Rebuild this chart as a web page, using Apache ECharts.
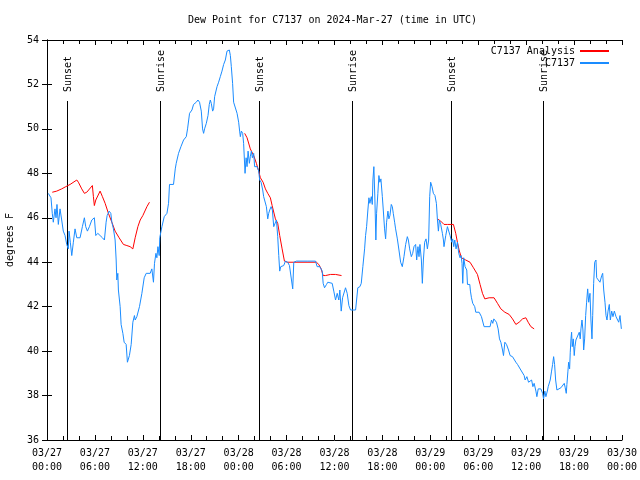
<!DOCTYPE html>
<html>
<head>
<meta charset="utf-8">
<script src="https://cdn.jsdelivr.net/npm/echarts@6/dist/echarts.min.js"></script>
<style>html,body{margin:0;padding:0;background:#fff}#c{width:640px;height:480px}</style>
</head>
<body>
<div id="c"></div>
<script>
// hours since 2024-03-27 00:00 UTC
const blueHours = [0.16,0.50,0.66,0.79,1.00,1.13,1.25,1.42,1.63,1.84,2.04,2.26,2.47,2.67,2.76,2.92,3.10,3.30,3.51,3.73,4.14,4.43,4.68,4.85,5.06,5.31,5.61,5.93,6.11,6.36,6.65,6.94,7.19,7.40,7.53,7.78,7.99,8.12,8.32,8.53,8.66,8.74,8.87,8.94,9.16,9.28,9.50,9.66,9.91,10.07,10.32,10.54,10.75,10.95,11.04,11.25,11.58,11.88,12.17,12.42,12.92,13.13,13.33,13.46,13.64,13.76,13.89,14.05,14.12,14.39,14.68,15.02,15.22,15.34,15.84,16.06,16.18,16.47,16.77,17.10,17.44,17.60,17.85,18.15,18.35,18.69,18.90,19.10,19.32,19.48,19.61,19.73,19.95,20.16,20.32,20.45,20.57,20.74,20.86,20.99,21.29,21.49,21.70,21.91,22.12,22.33,22.54,22.83,22.96,23.08,23.24,23.37,23.58,23.80,24.00,24.12,24.21,24.34,24.50,24.62,24.80,24.93,25.05,25.18,25.34,25.46,25.59,25.72,25.88,26.00,26.31,26.51,26.63,26.81,27.01,27.13,27.35,27.47,27.64,27.76,27.89,28.06,28.22,28.39,28.60,28.73,28.89,29.02,29.14,29.27,29.44,29.64,29.86,30.14,30.36,30.61,30.77,30.90,31.24,32.58,33.62,33.83,34.16,34.46,34.58,34.75,35.00,35.16,35.71,35.91,36.13,36.34,36.54,36.67,36.84,37.01,37.17,37.38,37.59,37.80,38.01,38.64,38.92,39.18,39.35,39.55,39.77,39.89,40.02,40.18,40.31,40.43,40.61,40.73,40.81,40.93,41.06,41.18,41.27,41.43,41.56,41.68,41.81,41.99,42.11,42.27,42.40,42.52,42.69,42.81,42.94,43.11,43.24,43.36,43.53,43.65,43.87,44.07,44.28,44.49,44.70,44.91,45.12,45.25,45.41,45.62,45.79,45.95,46.16,46.29,46.45,46.58,46.70,46.88,47.00,47.13,47.29,47.46,47.63,47.79,47.92,48.04,48.21,48.38,48.58,48.76,48.88,49.01,49.13,49.30,49.51,49.64,49.71,49.93,50.14,50.34,50.47,50.68,50.80,50.93,51.06,51.22,51.39,51.56,51.72,51.85,51.97,52.06,52.18,52.35,52.56,52.65,52.94,53.02,53.15,53.31,53.56,53.69,54.11,54.40,54.73,55.48,55.66,55.82,55.95,56.11,56.28,56.49,56.66,56.83,57.04,57.16,57.33,57.54,57.79,57.99,58.29,58.50,58.71,58.92,59.12,59.33,59.55,59.75,59.87,60.09,60.30,60.50,60.68,60.84,61.00,61.22,61.34,61.51,61.84,62.06,62.18,62.34,62.47,62.68,62.76,63.01,63.18,63.31,63.44,63.56,63.69,63.85,64.06,64.35,64.56,64.77,64.89,65.02,65.10,65.23,65.32,65.44,65.52,65.61,65.69,65.77,65.90,66.02,66.11,66.23,66.45,66.65,66.77,66.86,66.99,67.11,67.20,67.32,67.45,67.57,67.70,67.83,67.99,68.11,68.24,68.33,68.45,68.58,68.74,68.83,69.03,69.24,69.46,69.58,69.71,69.87,70.00,70.12,70.25,70.41,70.54,70.71,70.87,71.04,71.25,71.47,71.59,71.75,71.92];
const blueValues = [47.1,46.9,46.2,45.8,46.4,46.0,46.6,45.7,46.4,45.9,45.4,45.2,44.8,44.6,45.4,44.9,44.3,44.9,45.5,45.1,45.1,45.6,46.0,45.6,45.4,45.6,45.9,46.0,45.2,45.3,45.2,45.1,45.0,45.8,46.1,46.3,46.2,45.8,45.5,45.0,44.1,43.2,43.5,42.75,42.0,41.2,40.8,40.4,40.3,39.5,39.8,40.3,41.3,41.6,41.4,41.55,42.0,42.6,43.3,43.5,43.5,43.7,43.1,43.95,44.4,44.2,44.7,44.3,45.1,45.6,46.05,46.2,46.65,47.5,47.5,48.2,48.45,48.9,49.2,49.5,49.65,50.0,50.7,50.85,51.1,51.2,51.3,51.2,50.8,50.0,49.8,50.0,50.25,50.6,51.1,51.3,51.15,50.8,50.9,51.45,51.9,52.1,52.35,52.6,52.9,53.1,53.5,53.55,53.3,52.8,52.05,51.2,51.15,50.7,50.3,49.9,49.65,49.9,49.8,49.35,48.0,48.7,48.3,49.0,48.45,48.75,49.0,48.7,48.9,48.3,48.3,48.1,47.7,47.6,47.25,46.95,46.95,46.5,45.95,46.2,46.35,46.5,46.35,45.6,45.6,45.9,45.15,44.3,43.6,43.8,43.8,43.85,44.05,44.0,43.85,43.8,42.8,44.0,44.05,44.05,44.05,43.8,43.8,43.6,43.05,42.85,43.0,43.1,43.05,42.7,42.3,42.6,42.3,42.75,41.8,42.4,42.45,42.85,42.6,42.05,41.85,41.85,42.85,42.9,43.05,43.8,44.6,45.2,45.6,46.35,46.9,46.65,46.95,46.6,47.7,48.3,46.8,45.0,46.2,47.1,47.9,47.6,47.75,46.95,46.35,45.5,45.05,45.8,46.3,45.95,46.1,46.6,46.5,46.2,45.8,45.5,45.05,44.55,44.0,43.8,44.25,44.8,45.15,45.0,44.6,44.25,44.4,44.7,44.8,44.1,44.7,44.25,44.8,44.1,43.05,44.1,44.9,45.05,44.6,45.0,46.95,47.6,47.4,47.1,47.0,46.65,45.95,45.4,45.9,45.7,45.3,45.0,44.7,45.2,45.6,45.65,45.2,44.9,45.05,44.7,45.0,44.6,44.9,44.4,44.2,44.3,43.95,43.05,44.2,43.8,43.65,43.0,43.0,42.7,42.4,42.15,42.0,41.75,41.75,41.55,41.1,41.1,41.4,41.25,41.45,41.5,41.3,41.0,40.55,40.4,40.05,39.8,40.4,40.3,40.05,39.8,39.75,39.7,39.5,39.4,39.45,39.15,39.1,38.9,38.7,38.85,38.6,38.55,38.7,38.4,38.55,38.2,37.95,38.3,38.3,38.1,37.85,38.2,37.95,38.25,38.4,38.7,39.1,39.4,39.75,39.4,38.7,38.25,38.3,38.35,38.4,38.55,38.35,38.1,38.5,39.1,39.5,39.2,39.95,40.55,40.85,40.2,40.55,39.8,40.2,40.5,40.5,40.85,40.55,41.0,41.4,40.95,40.05,40.55,41.6,42.2,42.8,42.2,42.6,41.4,40.55,41.6,43.05,44.0,44.1,43.3,43.2,43.1,43.4,43.5,42.75,42.2,41.6,41.4,41.8,42.1,41.4,41.8,41.55,41.8,41.55,41.6,41.3,41.6,41.0];

const redHours = [0.66,1.22,1.84,2.35,2.89,3.73,3.93,4.35,4.68,4.98,5.68,5.81,5.93,6.11,6.65,6.94,7.28,7.69,8.12,8.53,9.03,9.57,10.00,10.41,10.75,11.04,11.38,11.67,12.00,12.51,12.83,18.0,24.75,25.05,25.46,25.88,26.22,26.51,26.72,27.06,27.35,27.64,27.97,28.19,28.60,28.89,29.14,29.44,29.73,30.07,33.74,34.03,34.33,34.58,34.87,35.50,36.13,36.88,42.0,48.88,49.30,49.71,50.14,50.89,51.18,51.39,51.60,51.89,52.43,52.97,53.40,53.90,54.23,54.53,54.82,55.36,55.98,56.41,56.83,57.33,57.87,58.29,58.71,59.12,59.55,59.96,60.25,60.59,61.00];
const redValues = [47.15,47.2,47.3,47.4,47.5,47.7,47.6,47.3,47.1,47.15,47.45,46.95,46.55,46.8,47.2,46.95,46.65,46.2,45.8,45.4,45.1,44.8,44.75,44.7,44.6,45.1,45.6,45.9,46.1,46.5,46.7,null,49.8,49.6,49.1,48.8,48.45,48.1,47.8,47.6,47.3,47.1,46.9,46.55,45.95,45.75,45.2,44.6,44.05,44.0,44.0,43.9,43.7,43.4,43.4,43.45,43.45,43.4,null,45.95,45.85,45.7,45.7,45.7,45.3,44.9,44.55,44.2,44.1,44.0,43.75,43.45,43.0,42.6,42.35,42.4,42.4,42.15,41.9,41.75,41.65,41.45,41.2,41.3,41.45,41.5,41.3,41.1,41.0];

const eventHours = [2.47, 14.09, 26.51, 38.18, 50.60, 62.15];
const eventLabels = ['Sunset', 'Sunrise', 'Sunset', 'Sunrise', 'Sunset', 'Sunrise'];

const yTicks = [36, 38, 40, 42, 44, 46, 48, 50, 52, 54];
const titleText = 'Dew Point for C7137 on 2024-Mar-27 (time in UTC)';
const seriesNames = ['C7137 Analysis', 'C7137'];
const startUTC = Date.UTC(2024, 2, 27, 0, 0);

const FONT = 'DejaVu Sans Mono';
const pad = n => (n < 10 ? '0' : '') + n;
function fmtHour(h) {
  const d = new Date(startUTC + h * 3600000);
  return pad(d.getUTCMonth() + 1) + '/' + pad(d.getUTCDate()) + '\n' + pad(d.getUTCHours()) + ':' + pad(d.getUTCMinutes());
}

const chart = echarts.init(document.getElementById('c'), null, {renderer: 'canvas'});
const axisCommon = {
  axisLine: {show: true, lineStyle: {color: '#000', width: 1}},
  axisTick: {show: true, inside: true, length: 5, lineStyle: {color: '#000'}},
  splitLine: {show: false}
};
const option = {
  animation: false,
  backgroundColor: '#fff',
  title: {
    text: titleText, left: 183, top: 10,
    textStyle: {fontFamily: FONT, fontSize: 10, fontWeight: 'normal', color: '#000'}
  },
  legend: {
    data: seriesNames, orient: 'vertical', right: 25, top: 41, align: 'right',
    itemWidth: 29, itemHeight: 10, itemGap: 2,
    itemStyle: {opacity: 0},
    textStyle: {fontFamily: FONT, fontSize: 10, color: '#000'}
  },
  grid: {left: 47, right: 18, top: 40, bottom: 40, containLabel: false, outerBoundsMode: 'none'},
  xAxis: [
    Object.assign({
      type: 'value', min: 0, max: 72, interval: 6, position: 'bottom',
      minorTick: {show: true, splitNumber: 3, length: 4, lineStyle: {color: '#000'}},
      axisLabel: {formatter: v => fmtHour(v), fontFamily: FONT, fontSize: 10, color: '#000', lineHeight: 14, margin: 6}
    }, axisCommon),
    Object.assign({
      type: 'value', min: 0, max: 72, interval: 6, position: 'top',
      minorTick: {show: true, splitNumber: 3, length: 4, lineStyle: {color: '#000'}},
      axisLabel: {show: false}
    }, axisCommon)
  ],
  yAxis: [
    Object.assign({
      type: 'value', min: yTicks[0], max: yTicks[yTicks.length - 1], interval: 2, position: 'left',
      name: 'degrees F', nameLocation: 'middle', nameGap: 32, nameRotate: 90,
      nameTextStyle: {fontFamily: FONT, fontSize: 10, color: '#000'},
      axisLabel: {fontFamily: FONT, fontSize: 10, color: '#000', margin: 8}
    }, axisCommon),
    Object.assign({
      type: 'value', min: yTicks[0], max: yTicks[yTicks.length - 1], interval: 2, position: 'right',
      axisLabel: {show: false}
    }, axisCommon)
  ],
  series: [
    {
      type: 'custom', name: 'events', silent: true, clip: false,
      data: eventHours.map((h, i) => [h, yTicks[0], eventLabels[i]]),
      encode: {x: 0, y: 1},
      renderItem: function (params, api) {
        const cs = params.coordSys;
        const p = api.coord([api.value(0), api.value(1)]);
        const x = Math.round(p[0]) + 0.5;
        return {
          type: 'group',
          children: [
            {type: 'line', shape: {x1: x, y1: cs.y + 61, x2: x, y2: cs.y + cs.height},
             style: {stroke: '#000', lineWidth: 1}},
            {type: 'text', x: x + 1, y: cs.y + 52, rotation: Math.PI / 2,
             style: {text: eventLabels[params.dataIndex], fontFamily: FONT, fontSize: 10, fill: '#000',
                     align: 'left', verticalAlign: 'middle'}}
          ]
        };
      }
    },
    {
      type: 'line', name: seriesNames[0], showSymbol: false, symbol: 'none', connectNulls: false,
      data: redHours.map((h, i) => [h, redValues[i] === null ? '-' : redValues[i]]),
      lineStyle: {color: '#ff0000', width: 1}, itemStyle: {color: '#ff0000'}
    },
    {
      type: 'line', name: seriesNames[1], showSymbol: false, symbol: 'none',
      data: blueHours.map((h, i) => [h, blueValues[i]]),
      lineStyle: {color: '#1a8cff', width: 1}, itemStyle: {color: '#1a8cff'}
    }
  ]
};
chart.setOption(option);
</script>
</body>
</html>
